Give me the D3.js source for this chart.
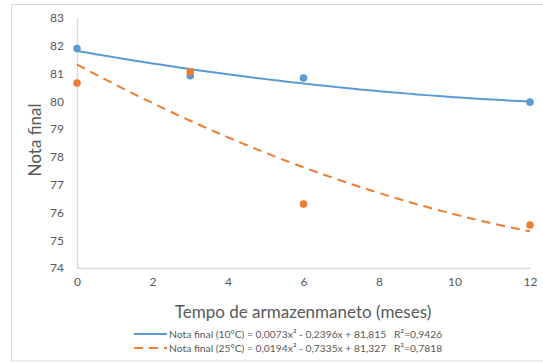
<!DOCTYPE html>
<html>
<head>
<meta charset="utf-8">
<script src="https://cdn.jsdelivr.net/npm/d3@7"></script>
<style>
  body { margin: 0; background: #fff; }
  text { font-family: Lato, "Open Sans", sans-serif; fill: #595959; }
</style>
</head>
<body>
<script>
// storage months
var months = [0, 3, 6, 12]
var nota10 = [81.9, 80.92, 80.84, 79.97]
var nota25 = [80.66, 81.06, 76.3, 75.55]
// trend line coefficients (a x^2 + b x + c), from the legend
var coef10 = [0.0073, -0.2396, 81.815]
var coef25 = [0.0194, -0.7335, 81.327]
var xTicks = [0, 2, 4, 6, 8, 10, 12]
var yTicks = [74, 75, 76, 77, 78, 79, 80, 81, 82, 83]
var legendLabels = [
  'Nota final (10°C) = 0,0073x² - 0,2396x + 81,815   R²=0,9426',
  'Nota final (25°C) = 0,0194x² - 0,7335x + 81,327   R²=0,7818'
]

var W = 543, H = 363
var margin = {top: 18, left: 77, right: 13, bottom: 95}
var width = W - margin.left - margin.right,
    height = H - margin.top - margin.bottom

var svg = d3.select('body').append('svg').attr('width', W).attr('height', H)

// outer frame
svg.append('rect').attr('x', 11.5).attr('y', 4.5).attr('width', 560).attr('height', 356.5)
  .attr('fill', 'none').attr('stroke', '#d9d9d9')

var g = svg.append('g').attr('transform', 'translate(' + margin.left + ',' + margin.top + ')')

var x = d3.scaleLinear().domain([0, 12]).range([0, width])
var y = d3.scaleLinear().domain([74, 83]).range([height, 0])

// axes
var xa = g.append('g').attr('transform', 'translate(0,' + height + ')')
  .call(d3.axisBottom(x).tickValues(xTicks).tickSize(0).tickPadding(9))
var ya = g.append('g')
  .call(d3.axisLeft(y).tickValues(yTicks).tickSize(0).tickPadding(13))
xa.selectAll('text').style('font-size', '12px')
ya.selectAll('text').style('font-size', '12px')
xa.select('.domain').attr('stroke', '#d9d9d9').attr('stroke-width', 1.5)
ya.select('.domain').attr('stroke', '#d9d9d9').attr('stroke-width', 1.5)

g.append('text').attr('x', 226).attr('y', height + 50)
  .attr('text-anchor', 'middle').style('font-size', '17px')
  .text('Tempo de armazenmaneto (meses)')
g.append('text').attr('transform', 'translate(-36,' + 122 + ') rotate(-90)')
  .attr('text-anchor', 'middle').style('font-size', '17px')
  .text('Nota final')

// trend lines
var series = [
  {coef: coef10, vals: nota10, color: '#5b9bd5', dash: null},
  {coef: coef25, vals: nota25, color: '#ed7d31', dash: '9,6'}
]

series.forEach(function(s) {
  var poly = function(t) { return s.coef[0] * t * t + s.coef[1] * t + s.coef[2] }
  var pl = d3.line().curve(d3.curveBasis)
    .x(function(d) { return x(d) })
    .y(function(d) { return y(poly(d)) })
  g.append('path').attr('d', pl(d3.range(0, 12.01, 0.25)))
    .attr('fill', 'none').attr('stroke', s.color).attr('stroke-width', 2)
    .attr('stroke-dasharray', s.dash)
})
series.forEach(function(s) {
  g.selectAll(null).data(s.vals).enter().append('circle')
    .attr('cx', function(d, i) { return x(months[i]) })
    .attr('cy', function(d) { return y(d) })
    .attr('r', 3.8).attr('fill', s.color)
})

// legend
var leg = svg.append('g').attr('transform', 'translate(134,334)')
legendLabels.forEach(function(l, i) {
  var row = leg.append('g').attr('transform', 'translate(0,' + (i * 14) + ')')
  row.append('line').attr('x1', 0).attr('x2', 33).attr('y1', 0).attr('y2', 0)
    .attr('stroke', series[i].color).attr('stroke-width', 2)
    .attr('stroke-dasharray', series[i].dash)
  row.append('text').attr('x', 35).attr('y', 3.5).style('font-size', '10.3px')
    .style('white-space', 'pre').text(l)
})
</script>
</body>
</html>
